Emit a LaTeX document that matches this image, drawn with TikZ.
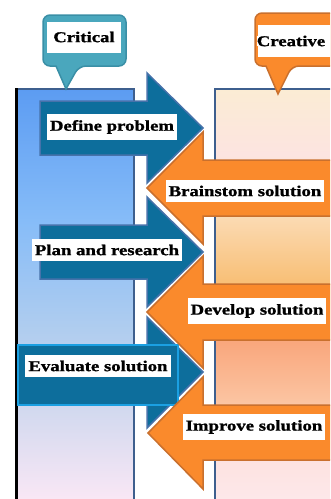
\documentclass[tikz,border=0pt]{standalone}
\usepackage{fontspec}
\newfontfamily\lblfont[FakeStretch=1.25, BoldFeatures={FakeBold=1.2}]{Liberation Serif}
\definecolor{arrowblue}{HTML}{0D6E9C}
\definecolor{edgeblue}{HTML}{4672AA}
\definecolor{barblue}{HTML}{1BA0E2}
\definecolor{arroworange}{HTML}{FA8A2C}
\definecolor{edgeorange}{HTML}{C9702E}
\definecolor{callblue}{HTML}{4AA7BD}
\definecolor{calledge}{HTML}{3A8FA6}
\definecolor{coledge}{HTML}{3E5F8E}
% column colours, top to bottom
\definecolor{cra}{HTML}{FBECD4}
\definecolor{crb}{HTML}{FCE4E0}
\definecolor{crc}{HTML}{FBD9B0}
\definecolor{crd}{HTML}{F8C078}
\definecolor{cre}{HTML}{F9A67C}
\definecolor{crf}{HTML}{FBC3A0}
\definecolor{crg}{HTML}{FDE2E0}
\definecolor{crh}{HTML}{FDE8EA}
\definecolor{cta}{HTML}{5C9CF2}
\definecolor{ctb}{HTML}{86BCF8}
\definecolor{ctc}{HTML}{B0CDEF}
\definecolor{ctd}{HTML}{D2D9EF}
\definecolor{cte}{HTML}{F9E7F5}
\pgfdeclareverticalshading{creativeshade}{100bp}{color(0bp)=(crh); color(25bp)=(crh);
  color(29.8bp)=(crg); color(37.1bp)=(crf); color(44.4bp)=(cre); color(51.7bp)=(crd);
  color(59bp)=(crc); color(67bp)=(crb); color(75bp)=(cra); color(100bp)=(cra)}
\pgfdeclareverticalshading{criticalshade}{100bp}{color(0bp)=(cte); color(25bp)=(cte);
  color(35.9bp)=(ctd); color(45.6bp)=(ctc); color(59bp)=(ctb); color(75bp)=(cta); color(100bp)=(cta)}

\begin{document}
\begin{tikzpicture}[x=1pt, y=-1pt,
  lbl/.style={fill=white, font=\lblfont\bfseries\fontsize{15}{18}\selectfont, inner xsep=3pt, inner ysep=6pt},
  bluearrow/.style={fill=arrowblue, draw=edgeblue, line width=1.5pt},
  orangearrow/.style={fill=arroworange, draw=edgeorange, line width=1.5pt},
  column/.style={draw=coledge, line width=1.2pt}]
  \path[use as bounding box, clip] (0,0) rectangle (330,499);

  % the two columns
  \shade[shading=criticalshade] (16,89) rectangle (134,499);
  \draw[column] (16,505) |- (134,89) -- (134,505);
  \draw[line width=3pt] (16,88) -- (16,505);
  \shade[shading=creativeshade] (215,89) rectangle (340,499);
  \draw[column] (215,505) |- (340,89);

  % callouts
  \draw[fill=callblue, draw=calledge, line width=1.5pt]
    (43,40) [rounded corners=7pt] |- (126,15) |- (79,66) [sharp corners] -- (66,89) -- (56,66)
    [rounded corners=7pt] -| (43,40) -- cycle;
  \node[lbl, minimum width=74pt, minimum height=31pt, inner sep=0pt] (critical) at (84,37) {Critical};
  \draw[fill=arroworange, draw=edgeorange, line width=1.5pt]
    (255,40) [rounded corners=7pt] |- (345,13) |- (292,66) [sharp corners] -- (278,94) -- (266,66)
    [rounded corners=7pt] -| (255,40) -- cycle;
  \fill[white] (258,25) rectangle (335,57);
  \node[lbl, inner sep=0pt] (creative) at (291,41) {Creative};

  % critical steps
  \draw[bluearrow] (40,101) -- (147,101) -- (147,73) -- (203,128) -- (147,183) -- (147,155) -- (40,155) -- cycle;
  \draw[bluearrow] (40,225) -- (147,225) -- (147,197) -- (203,252) -- (147,307) -- (147,279) -- (40,279) -- cycle;
  \draw[bluearrow] (147,317) -- (203,372) -- (147,428) -- cycle;
  \draw[fill=arrowblue, draw=barblue, line width=1.5pt] (18,345) rectangle (178,405);

  % creative steps
  \draw[orangearrow] (340,160) -- (203,160) -- (203,132) -- (147,188) -- (203,244) -- (203,216) -- (340,216) -- cycle;
  \draw[orangearrow] (340,284) -- (203,284) -- (203,256) -- (147,312) -- (203,368) -- (203,340) -- (340,340) -- cycle;
  \draw[orangearrow] (340,405) -- (203,405) -- (203,377) -- (148,433) -- (203,489) -- (203,460) -- (340,460) -- cycle;

  % labels
  \node[lbl] (define) at (112,127) {Define problem};
  \node[lbl] (brainstorm) at (245,191) {Brainstom solution};
  \node[lbl] (plan) at (107,250) {Plan and research};
  \node[lbl] (develop) at (257,311) {Develop solution};
  \node[lbl] (evaluate) at (98,366) {Evaluate solution};
  \node[lbl] (improve) at (254,427) {Improve solution};
\end{tikzpicture}
\end{document}
